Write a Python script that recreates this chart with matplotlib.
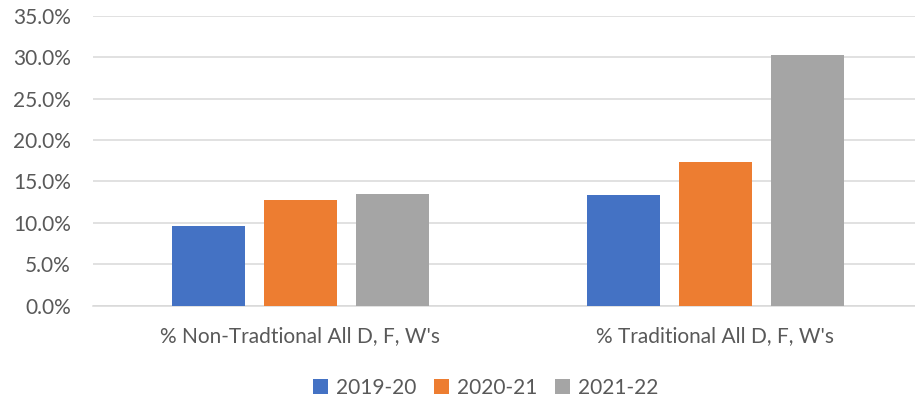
import numpy as np
import matplotlib.pyplot as plt
from matplotlib.patches import Patch
from matplotlib.ticker import PercentFormatter

# --------------------------------------------------
# Data
# --------------------------------------------------

categories = ["% Non-Tradtional All D, F, W's", "% Traditional All D, F, W's"]
years = ["2019-20", "2020-21", "2021-22"]
colors = ["#4472C4", "#ED7D31", "#A5A5A5"]

pct_2019_20 = [9.6, 13.4]
pct_2020_21 = [12.8, 17.4]
pct_2021_22 = [13.5, 30.3]

series = [pct_2019_20, pct_2020_21, pct_2021_22]

# --------------------------------------------------
# Figure
# --------------------------------------------------

plt.rcParams["font.family"] = ["Lato", "DejaVu Sans"]
text_color = "#595959"
grid_color = "#D9D9D9"
fs = 15

fig = plt.figure(figsize=(9.15, 4.04), dpi=100)
ax = fig.add_axes([93 / 915, 1 - 305.5 / 404, 822 / 915, 289.5 / 404])

x = np.arange(len(categories))
step = 0.222
width = 0.176

for i, (vals, col) in enumerate(zip(series, colors)):
    ax.bar(x + (i - 1) * step, vals, width, color=col, zorder=3)

ax.set_xlim(-0.5, 1.5 - 7.5 / 415)
ax.set_ylim(0, 35)
ax.set_yticks(np.arange(0, 36, 5))
ax.yaxis.set_major_formatter(PercentFormatter(decimals=1))
ax.set_xticks(x)
ax.set_xticklabels(categories)

ax.grid(axis="y", color=grid_color, linewidth=1.1, zorder=0)
for side in ["top", "right", "left"]:
    ax.spines[side].set_visible(False)
ax.spines["bottom"].set_color(grid_color)
ax.spines["bottom"].set_linewidth(1.1)

ax.tick_params(axis="both", length=0, labelsize=fs, labelcolor=text_color)
ax.tick_params(axis="y", pad=16)
ax.tick_params(axis="x", pad=15)

handles = [Patch(facecolor=c, label=y) for c, y in zip(colors, years)]
fig.legend(
    handles=handles,
    loc="center",
    bbox_to_anchor=(486 / 915, 1 - 388 / 404),
    ncol=3,
    frameon=False,
    fontsize=fs,
    labelcolor=text_color,
    handlelength=0.7,
    handleheight=0.7,
    handletextpad=0.4,
    columnspacing=0.85,
)

plt.savefig("out.png", dpi=100)
plt.close()
